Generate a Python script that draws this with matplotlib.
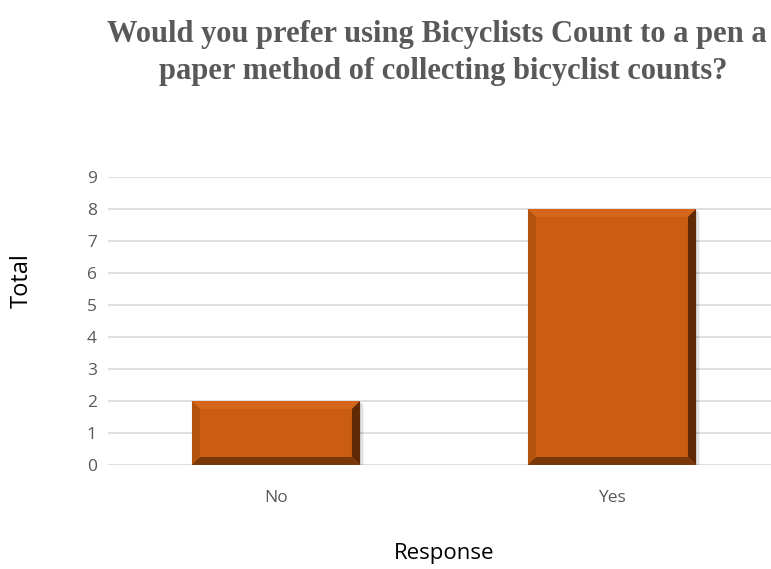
import matplotlib.pyplot as plt
from matplotlib.patches import Polygon, Rectangle

responses = ["No", "Yes"]
totals = [2, 8]
yticks = list(range(0, 10))

title_lines = ["Would you prefer using Bicyclists Count to a pen a",
               "paper method of collecting bicyclist counts?"]

bar_color = "#CB5D12"
bar_w = 0.5

fig = plt.figure(figsize=(7.71, 5.69), dpi=100)
ax = fig.add_axes([0.140, 0.1828, 0.8716, 0.506])

# plain bars, the bevel is layered on top of them below
bars = ax.bar(range(len(responses)), totals, width=bar_w, color=bar_color,
              zorder=3, linewidth=0)

ax.set_xlim(-0.5, len(responses) - 0.5)
ax.set_ylim(0, 9)

# pixel -> data scale so the bevel has the same thickness on every side
fig.canvas.draw()
x0d, y0d = ax.transData.transform((0, 0))
x1d, y1d = ax.transData.transform((1, 1))
px_x = 1.0 / (x1d - x0d)
px_y = 1.0 / (y1d - y0d)
bev = 8

for b in bars:
    l, bt = b.get_x(), b.get_y()
    r, t = l + b.get_width(), bt + b.get_height()
    dx, dy = bev * px_x, bev * px_y
    # soft drop shadow to the right and below
    for i, a in enumerate([0.10, 0.07, 0.04]):
        ax.add_patch(Rectangle((l + (i + 1) * px_x * 1.5, bt - (i + 1) * px_y),
                               r - l, t - bt, color="black", alpha=a,
                               zorder=2, linewidth=0))
    faces = [
        ([(l, t), (r, t), (r - dx, t - dy), (l + dx, t - dy)], "#D4651A"),
        ([(l, bt), (l, t), (l + dx, t - dy), (l + dx, bt + dy)], "#B4520F"),
        ([(r, bt), (r, t), (r - dx, t - dy), (r - dx, bt + dy)], "#5E2A06"),
        ([(l, bt), (r, bt), (r - dx, bt + dy), (l + dx, bt + dy)], "#7A3809"),
    ]
    for pts, c in faces:
        ax.add_patch(Polygon(pts, closed=True, color=c, zorder=4, linewidth=0))

ax.set_yticks(yticks)
ax.set_xticks(range(len(responses)))
ax.set_xticklabels(responses)
ax.yaxis.grid(True, color="#D9D9D9", linewidth=1.2, zorder=0)
ax.set_axisbelow(True)
for s in ax.spines.values():
    s.set_visible(False)
ax.tick_params(axis="both", length=0, labelsize=12.5, labelcolor="#595959",
               pad=8)
ax.tick_params(axis="x", pad=18)
for lab in ax.get_xticklabels() + ax.get_yticklabels():
    lab.set_fontfamily("Open Sans")

ax.set_ylabel("Total", fontsize=17, family="Open Sans")
ax.yaxis.set_label_coords(-0.111, 0.642)
ax.set_xlabel("Response", fontsize=16, family="Open Sans")
ax.xaxis.set_label_coords(0.5, -0.27)

title_kw = dict(fontsize=22, fontweight="bold", color="#595959",
                family="Liberation Serif", va="baseline")
fig.text(107 / 771, 1 - 42 / 569, title_lines[0], ha="left", **title_kw)
fig.text(443 / 771, 1 - 79 / 569, title_lines[1], ha="center", **title_kw)

fig.savefig("out.png", dpi=100)
